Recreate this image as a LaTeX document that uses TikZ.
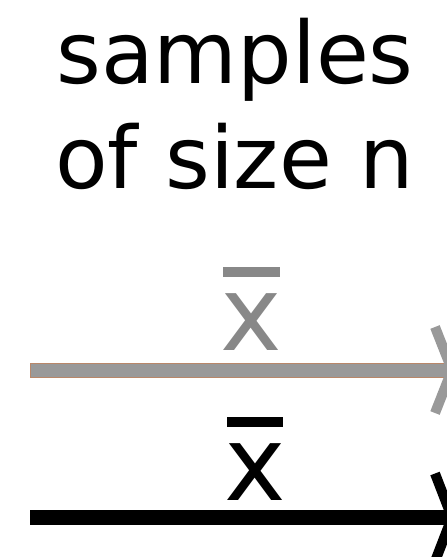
\documentclass[tikz,border=0pt]{standalone}
\usepackage{fontspec}
\setmainfont{DejaVu Sans}
\usetikzlibrary{calc}
\definecolor{shaftgray}{RGB}{153,153,153}
\definecolor{xgray}{RGB}{136,136,136}
\definecolor{edgebrown}{RGB}{185,135,105}
\begin{document}
\begin{tikzpicture}[x=1pt,y=-1pt,
  title/.style={inner sep=0pt,anchor=base,font=\fontsize{86}{105}\selectfont},
  xbar/.style={inner sep=0pt,anchor=base,font=\fontsize{104}{120}\selectfont},
  chevron/.style={line width=10pt,line join=miter,miter limit=10}]
\useasboundingbox (0,0) rectangle (447,557);
% title
\node[title] (t1) at (235,83) {samples};
\node[title] (t2) at (234.5,188) {of size n};
% gray x-bar and arrow
\node[xbar,text=xgray] (gx) at (251.5,350) {x};
\fill[xgray] ($(gx.base)+(-28.5,-83)$) rectangle ($(gx.base)+(28.5,-73)$);
\coordinate (g0) at (30,370);
\coordinate (g1) at (447,370);
\filldraw[fill=shaftgray,draw=edgebrown,line width=0.8pt]
  ($(g0)+(0,-7)$) rectangle ($(g1)+(8,7)$);
\draw[chevron,shaftgray] ($(g1)+(-12,-43)$) -- ($(g1)+(5,0)$) -- ($(g1)+(-12,43)$);
% black x-bar and arrow
\node[xbar,text=black] (bx) at (255,500) {x};
\fill[black] ($(bx.base)+(-28,-83)$) rectangle ($(bx.base)+(28,-73)$);
\coordinate (b0) at (30,517.5);
\coordinate (b1) at (447,517.5);
\fill[black] ($(b0)+(0,-7.5)$) rectangle ($(b1)+(8,7.5)$);
\draw[chevron,black] ($(b1)+(-12,-44)$) -- ($(b1)+(5,0)$) -- ($(b1)+(-12,44)$);
\end{tikzpicture}
\end{document}
